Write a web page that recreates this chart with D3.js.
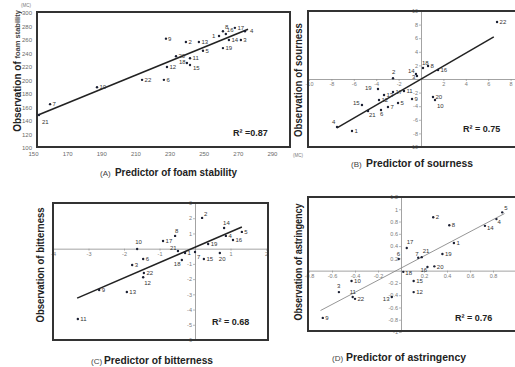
<!DOCTYPE html>
<html>
<head>
<meta charset="utf-8">
<script src="https://cdn.jsdelivr.net/npm/d3@7"></script>
<style>
  body { margin: 0; background: #fff; }
  svg { display: block; font-family: "Liberation Sans", Arial, sans-serif; }
</style>
</head>
<body>
<svg id="chart" width="515" height="367"></svg>
<script>
const sampleIds = ["1","2","3","4","5","6","7","8","9","10","11","12","13","14","15","16","17","18","19","20","21","22"];

// (A) foam stability (MC)
const foamPred = [259, 239.6, 271.8, 274.2, 249.6, 226.7, 160, 261.3, 227.9, 187.5, 242, 228.5, 247.2, 264.8, 242, 263, 268.3, 240.2, 261.3, 233.8, 153.5, 213.9];
const foamObs  = [266, 257, 260, 273, 244, 201, 165, 273, 262, 190, 233, 220, 257, 260, 223, 269, 278, 226, 248, 236, 149, 201];
const foamFitPred = [153, 276];
const foamFitObs  = [149, 276];
const foamXTicks = [150, 170, 190, 210, 230, 250, 270, 290];
const foamYTicks = [100, 120, 140, 160, 180, 200, 220, 240, 260, 280, 300];

// (B) sourness
const sourPred = [-6.16, -2.5, -0.36, -7.5, -2.05, -3.57, -2.95, 0.63, -0.8, 1.25, -1.52, -3.75, -3.3, -0.45, -5.27, 1.52, -2.5, 0.18, -3.84, 1.07, -4.73, 6.79];
const sourObs  = [-7.65, 0.1, 0.44, -7.06, -3.53, -4.56, -4.12, 1.91, -2.94, -3.09, -1.76, -3.09, -2.35, 0.74, -3.82, 1.32, -1.91, 1.62, -1.47, -2.65, -4.71, 8.38];
const sourFitPred = [-7.5, 6.5];
const sourFitObs  = [-7.2, 6.2];
const sourXTicks = [-10, -8, -6, -4, -2, 2, 4, 6, 8];
const sourYTicks = [-10, -8, -6, -4, -2, 2, 4, 6, 8, 10];

// (C) bitterness
const bitPred = [-0.28, 0.2, -1.77, 0.87, 1.32, -1.46, 0.0, -0.56, -2.7, -1.63, -3.3, -1.46, -1.92, 0.82, 0.25, 1.07, -0.9, -0.37, 0.37, 0.7, -0.48, -1.44];
const bitObs  = [-0.28, 2.02, -1.07, 0.84, 1.1, -0.68, -0.22, 0.84, -2.72, -0.02, -4.62, -1.88, -2.85, 1.36, -0.68, 0.57, 0.5, -0.74, 0.31, -0.28, -0.15, -1.6];
const bitFitPred = [-3.32, 1.32];
const bitFitObs  = [-3.25, 1.42];
const bitXTicks = [-4, -3, -2, -1, 1, 2];
const bitYTicks = [-6, -5, -4, -3, -2, -1, 1, 2, 3];

// (D) astringency
const astPred = [0.46, 0.28, -0.54, 0.83, 0.88, -0.02, 0.15, 0.42, -0.68, -0.43, -0.42, 0.11, -0.08, 0.73, 0.11, 0.23, 0.05, 0.02, 0.36, 0.29, 0.18, -0.4];
const astObs  = [0.45, 0.87, -0.35, 0.84, 0.95, 0.19, 0.21, 0.74, -0.77, -0.17, -0.43, -0.35, -0.43, 0.73, -0.17, 0.06, 0.37, -0.02, 0.27, 0.07, 0.22, -0.46];
const astFitPred = [-0.7, 0.9];
const astFitObs  = [-0.65, 0.93];
const astXTicks = [-0.8, -0.6, -0.4, -0.2, 0.2, 0.4, 0.6, 0.8];
const astYTicks = [-1, -0.8, -0.6, -0.4, -0.2, 0.2, 0.4, 0.6, 0.8, 1, 1.2];

const svg = d3.select("#chart");
const fmt = d => String(+d.toFixed(1));

function drawPanel(p) {
  const x = d3.scaleLinear().domain(p.xDomain).range(p.xRange);
  const y = d3.scaleLinear().domain(p.yDomain).range(p.yRange);
  const g = svg.append("g");

  if (p.cross) {
    const xa = g.append("g").attr("transform", `translate(0,${y(0)})`)
      .call(d3.axisBottom(x).tickValues(p.xTicks).tickSize(2).tickSizeOuter(0).tickPadding(1).tickFormat(fmt));
    const ya = g.append("g").attr("transform", `translate(${x(0)},0)`)
      .call(d3.axisLeft(y).tickValues(p.yTicks).tickSize(2).tickSizeOuter(0).tickPadding(1).tickFormat(fmt));
    [xa, ya].forEach(a => {
      a.select(".domain").attr("stroke", "#8c8c8c").attr("stroke-width", 0.8);
      a.selectAll(".tick line").attr("stroke", "#8c8c8c").attr("stroke-width", 0.6);
      a.selectAll(".tick text").attr("fill", "#7a7a7a").attr("font-size", 5.5)
        .attr("font-family", "Liberation Sans, Arial, sans-serif");
    });
  } else {
    const ya = g.append("g").attr("transform", `translate(${p.box[0] - 2},0)`)
      .call(d3.axisLeft(y).tickValues(p.yTicks).tickSize(0).tickPadding(3).tickFormat(fmt));
    const xa = g.append("g").attr("transform", `translate(0,${p.box[3] + 1})`)
      .call(d3.axisBottom(x).tickValues(p.xTicks).tickSize(0).tickPadding(4).tickFormat(fmt));
    [xa, ya].forEach(a => {
      a.select(".domain").remove();
      a.selectAll(".tick text").attr("fill", "#6a6a6a").attr("font-size", 6)
        .attr("font-family", "Liberation Sans, Arial, sans-serif");
    });
  }

  // frame of the plot area
  g.append("rect")
    .attr("x", p.box[0]).attr("y", p.box[1])
    .attr("width", p.box[2] - p.box[0]).attr("height", p.box[3] - p.box[1])
    .attr("fill", "none").attr("stroke", "#333").attr("stroke-width", 2);

  // regression line
  const fit = p.fitPred.map((v, i) => [v, p.fitObs[i]]);
  g.append("path")
    .attr("d", d3.line().x(d => x(d[0])).y(d => y(d[1]))(fit))
    .attr("fill", "none")
    .attr("stroke", p.fitColor)
    .attr("stroke-width", p.fitWidth);

  const pts = sampleIds.map((id, i) => ({ id, px: p.pred[i], ob: p.obs[i] }));

  g.selectAll("circle.pt").data(pts).enter().append("circle")
    .attr("class", "pt")
    .attr("cx", d => x(d.px)).attr("cy", d => y(d.ob))
    .attr("r", 1.2).attr("fill", "#1c2033");

  g.selectAll("text.lbl").data(pts).enter().append("text")
    .attr("class", "lbl")
    .attr("x", d => x(d.px) + (p.offsets[d.id] || [2.5, 2.2])[0])
    .attr("y", d => y(d.ob) + (p.offsets[d.id] || [2.5, 2.2])[1])
    .attr("font-size", 6).attr("fill", "#333")
    .text(d => d.id);

  // R squared
  g.append("text")
    .attr("x", p.r2Pos[0]).attr("y", p.r2Pos[1])
    .attr("font-size", 9).attr("font-weight", "bold").attr("fill", "#222")
    .text(p.r2Text);

  // panel title
  g.append("text")
    .attr("x", p.title.tagX).attr("y", p.title.y)
    .attr("font-size", 8).attr("fill", "#444")
    .text(p.title.tag);
  g.append("text")
    .attr("x", p.title.x).attr("y", p.title.y)
    .attr("font-size", 11).attr("font-weight", "bold").attr("fill", "#222")
    .attr("textLength", p.title.len).attr("lengthAdjust", "spacingAndGlyphs")
    .text(p.title.text);

  // y axis title
  const yt = g.append("text")
    .attr("transform", `translate(${p.yTitle.x},${p.yTitle.y}) rotate(-90)`)
    .attr("text-anchor", "middle").attr("dominant-baseline", "central")
    .attr("font-weight", "bold").attr("fill", "#222");
  if (p.yTitle.small) {
    yt.append("tspan").attr("font-size", 10).text(p.yTitle.text);
    yt.append("tspan").attr("font-size", 7.5).attr("fill", "#444").text(p.yTitle.small);
  } else {
    yt.attr("font-size", 10).attr("textLength", p.yTitle.len).attr("lengthAdjust", "spacingAndGlyphs")
      .text(p.yTitle.text);
  }
}

drawPanel({
  xDomain: [150, 300], xRange: [33, 289],
  yDomain: [100, 300], yRange: [148, 13],
  box: [37, 12, 290, 147],
  xTicks: foamXTicks, yTicks: foamYTicks, cross: false,
  pred: foamPred, obs: foamObs, fitPred: foamFitPred, fitObs: foamFitObs,
  fitColor: "#222", fitWidth: 1.6,
  offsets: { "21": [3, 9], "4": [5, 1.5], "1": [-7, 2], "16": [1, -2], "8": [2, -2], "9": [2, 2],
             "18": [-8, 1], "15": [3, 5] },
  r2Pos: [233, 136], r2Text: "R² =0.87",
  title: { tag: "(A)", tagX: 100, x: 115, y: 176, text: "Predictor of foam stability", len: 122 },
  yTitle: { x: 17, y: 71, text: "Observation of ", small: "foam stability" }
});

drawPanel({
  xDomain: [-10, 10], xRange: [309, 533],
  yDomain: [-10, 10], yRange: [147, 11],
  box: [308, 11, 530, 147],
  xTicks: sourXTicks, yTicks: sourYTicks, cross: true,
  pred: sourPred, obs: sourObs, fitPred: sourFitPred, fitObs: sourFitObs,
  fitColor: "#222", fitWidth: 1.5,
  offsets: { "4": [-5, -3], "2": [-1, -4], "14": [-8, -1], "18": [-1, -3], "21": [1, 6], "15": [-9, 0],
             "19": [-13, 1], "10": [2, 8], "6": [-1, 6], "3": [-5, 3], "22": [2.5, 2] },
  r2Pos: [463, 132], r2Text: "R² = 0.75",
  title: { tag: "(B)", tagX: 351, x: 366, y: 167, text: "Predictor of sourness", len: 107 },
  yTitle: { x: 298, y: 80, text: "Observation of sourness", len: 114 }
});

drawPanel({
  xDomain: [-4, 2], xRange: [53, 266],
  yDomain: [-6, 3], yRange: [340, 203],
  box: [53, 203, 268, 340],
  xTicks: bitXTicks, yTicks: bitYTicks, cross: true,
  pred: bitPred, obs: bitObs, fitPred: bitFitPred, fitObs: bitFitObs,
  fitColor: "#222", fitWidth: 1.6,
  offsets: { "10": [-2, -5], "14": [-1, -3], "2": [2, -2], "8": [0, -3], "21": [-8, -1], "18": [-8, 6],
             "12": [1, 8], "20": [-1, 8], "7": [2, 7] },
  r2Pos: [212, 325], r2Text: "R² = 0.68",
  title: { tag: "(C)", tagX: 91, x: 104, y: 364, text: "Predictor of bitterness", len: 109 },
  yTitle: { x: 40, y: 265, text: "Observation of bitterness", len: 115 }
});

drawPanel({
  xDomain: [-0.8, 1.0], xRange: [309, 516],
  yDomain: [-1, 1.2], yRange: [332, 197],
  box: [308, 197, 530, 331],
  xTicks: astXTicks, yTicks: astYTicks, cross: true,
  pred: astPred, obs: astObs, fitPred: astFitPred, fitObs: astFitObs,
  fitColor: "#8a8a8a", fitWidth: 0.9,
  offsets: { "3": [-2, -4], "11": [-3, -3], "17": [0, -4], "21": [1, -4], "7": [-3, -2], "6": [-2, -3],
             "16": [-7, 5], "14": [2, 4], "4": [1, 5], "5": [2, -2], "13": [-9, 4], "18": [2, 3] },
  r2Pos: [455, 321], r2Text: "R² = 0.76",
  title: { tag: "(D)", tagX: 332, x: 346, y: 361, text: "Predictor of astringency", len: 120 },
  yTitle: { x: 298, y: 262, text: "Observation of astringency", len: 117 }
});

// unit notes
svg.append("text").attr("x", 21).attr("y", 7).attr("font-size", 4.5).attr("fill", "#777").text("(MC)");
svg.append("text").attr("x", 293).attr("y", 157).attr("font-size", 4.5).attr("fill", "#777").text("(MC)");
</script>
</body>
</html>
